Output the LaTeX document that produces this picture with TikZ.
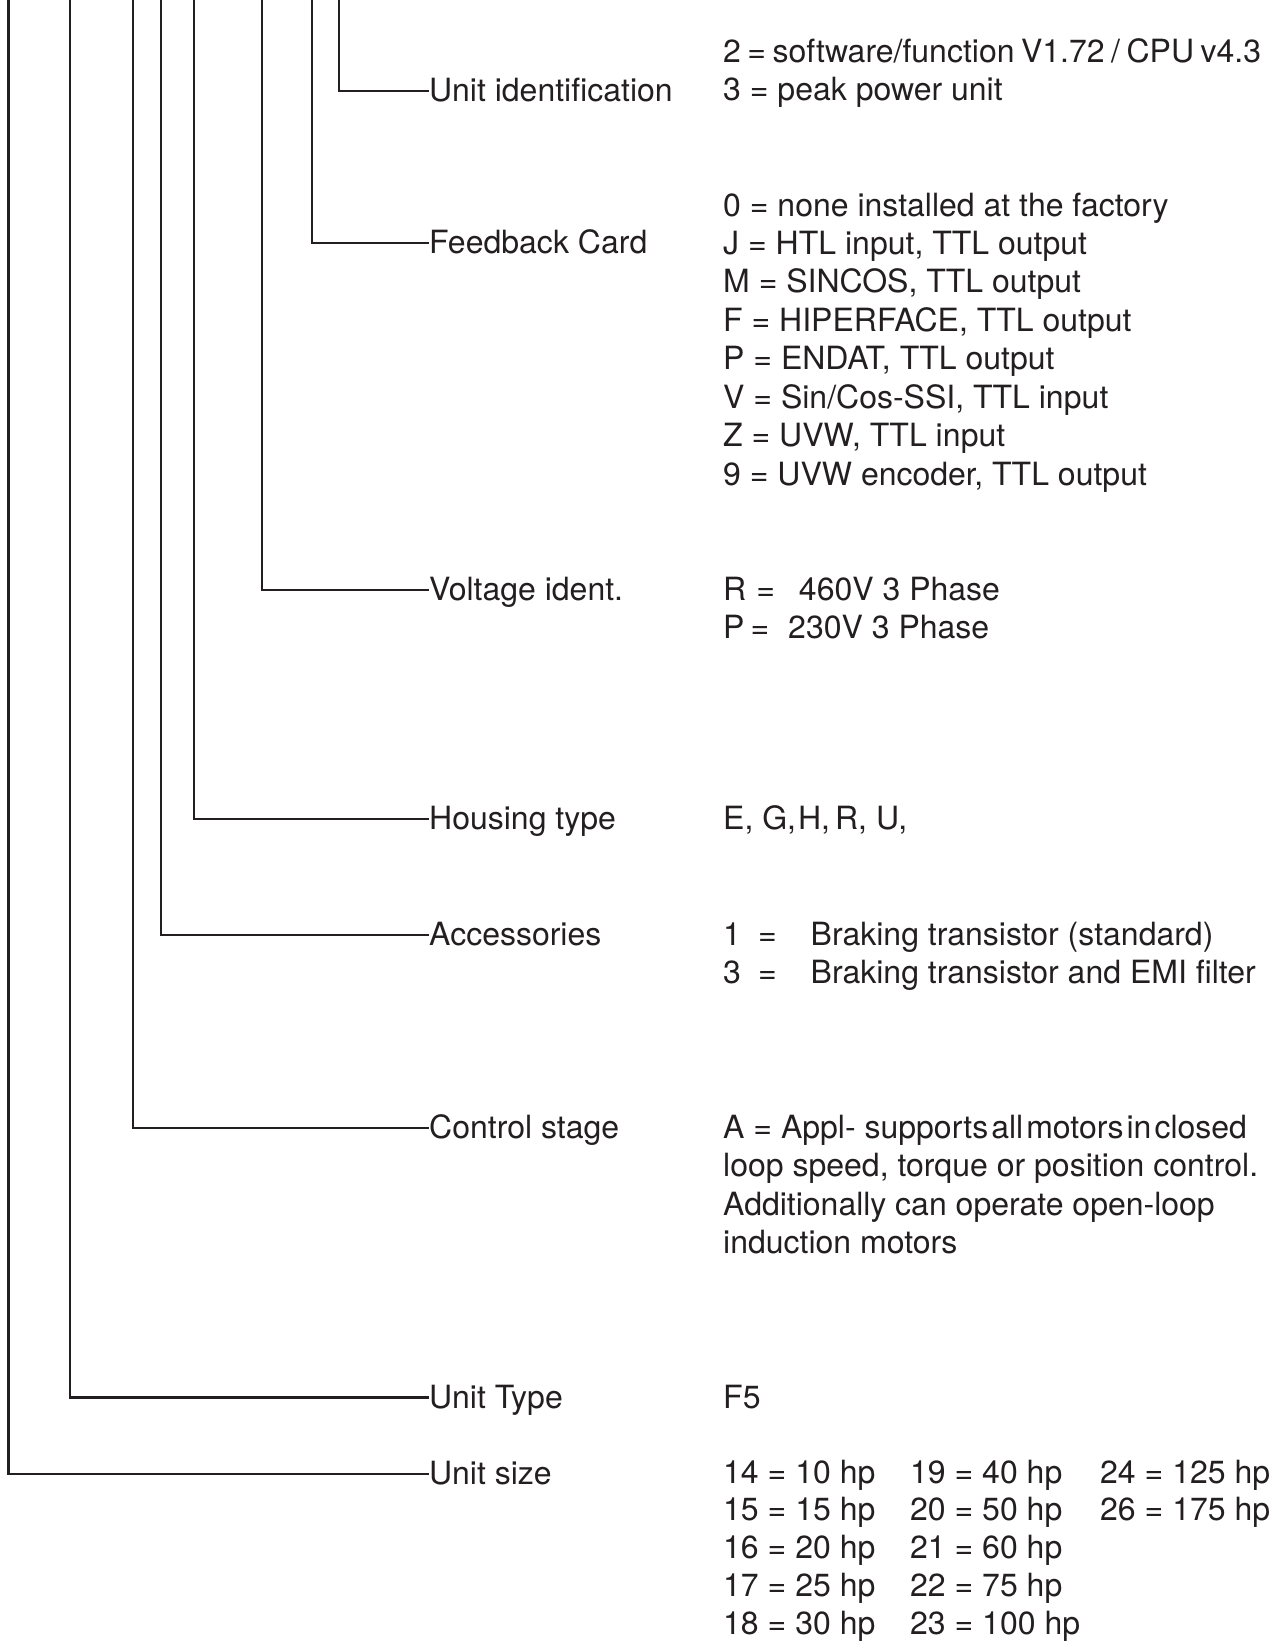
\documentclass[tikz,border=0pt]{standalone}
\usepackage{fontspec}
\setmainfont{TeX Gyre Heros}
\definecolor{ink}{HTML}{231F20}
\newcommand\fsz{\fontsize{32}{38.45}\selectfont}
\newcommand\fszhp{\fontsize{32}{37.9}\selectfont}
\newcommand\rowsT[1]{\begin{tabular}[t]{@{}l@{}}#1\end{tabular}}
\newcommand\tsp{\hspace{3pt}}
\begin{document}
\begin{tikzpicture}[x=1pt,y=-1pt,
  conn/.style={line width=2.3pt, draw=ink},
  lbl/.style={anchor=west, inner sep=0pt, text height=21pt, text depth=0pt, font=\fsz, text=ink},
  vals/.style={anchor=base west, inner sep=0pt, font=\fsz, text=ink}]
\useasboundingbox (0,0) rectangle (1281,1642);

% labels
\node[lbl] (uid)  at (429,90.7)  {Unit identification};
\node[lbl] (fbc)  at (429,243)   {Feedback Card};
\node[lbl] (vol)  at (429,590)   {Voltage ident.};
\node[lbl] (hou)  at (429,819)   {Housing type};
\node[lbl] (acc)  at (429,935)   {Accessories};
\node[lbl] (ctl)  at (429,1128)  {Control stage};
\node[lbl] (uty)  at (429,1397.5){Unit Type};
\node[lbl] (usz)  at (429,1474)  {Unit size};

% top ends of the vertical lines
\coordinate (tuid) at (339.3,0);
\coordinate (tfbc) at (312,0);
\coordinate (tvol) at (262.3,0);
\coordinate (thou) at (194,0);
\coordinate (tacc) at (160.7,0);
\coordinate (tctl) at (133.3,0);
\coordinate (tuty) at (70,0);
\coordinate (tusz) at (8.5,0);

\draw[conn] (tuid) |- (uid.west);
\draw[conn] (tfbc) |- (fbc.west);
\draw[conn] (tvol) |- (vol.west);
\draw[conn] (thou) |- (hou.west);
\draw[conn] (tacc) |- (acc.west);
\draw[conn] (tctl) |- (ctl.west);
\draw[conn] (tuty) |- (uty.west);
\draw[conn] (tusz) |- (usz.west);

% values
\node[vals] (uidv) at (723,62) {\rowsT{{\spaceskip=6.5pt 2 = software/function V1.72 / CPU v4.3}\\3 = peak power unit}};
\node[vals] (fbcv) at (723,216) {\rowsT{0 = none installed at the factory\\
J = HTL input, TTL output\\
M = SINCOS, TTL output\\
F = HIPERFACE, TTL output\\
P = ENDAT, TTL output\\
V = Sin/Cos-SSI, TTL input\\
Z = UVW, TTL input\\
9 = UVW encoder, TTL output}};
\node[vals] (volv) at (723,600.5) {\rowsT{R\hspace{10pt}=\hspace{24pt}460V 3 Phase\\P\hspace{6pt}=\hspace{19pt}230V 3 Phase}};
\node[vals] (houv) at (723,829.5) {E, G,\hspace{2pt}H,\hspace{5pt}R, U,};
\node[vals] (accv) at (723,945.5) {\rowsT{\makebox[35pt][l]{1}\makebox[52.5pt][l]{=}Braking transistor (standard)\\
\makebox[35pt][l]{3}\makebox[52.5pt][l]{=}Braking transistor and EMI filter}};
\node[vals] (ctlv) at (723,1138.5) {\rowsT{A = Appl- supports\tsp all\tsp motors\tsp in\tsp closed\\
loop speed, torque or position control.\\
Additionally can operate open-loop\\
induction motors}};
\node[vals] (utyv) at (723,1408) {F5};
\node[vals, font=\fszhp] (uszv) at (723,1483) {\rowsT{\makebox[187pt][l]{14 = 10 hp}\makebox[190pt][l]{19 = 40 hp}24 = 125 hp\\
\makebox[187pt][l]{15 = 15 hp}\makebox[190pt][l]{20 = 50 hp}26 = 175 hp\\
\makebox[187pt][l]{16 = 20 hp}21 = 60 hp\\
\makebox[187pt][l]{17 = 25 hp}22 = 75 hp\\
\makebox[187pt][l]{18 = 30 hp}23 = 100 hp}};
\end{tikzpicture}
\end{document}
